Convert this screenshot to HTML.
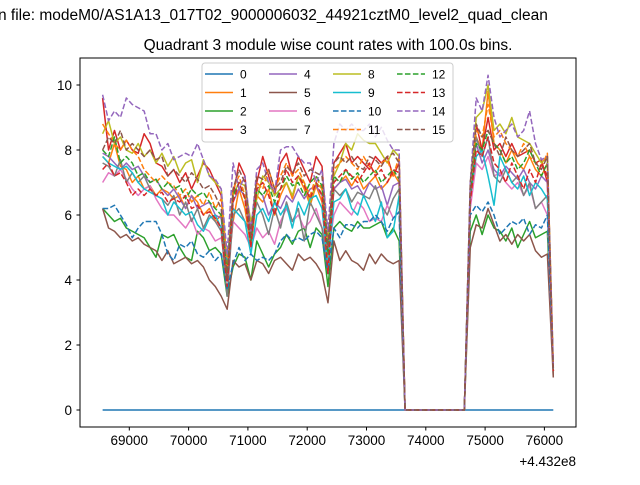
<!DOCTYPE html>
<html><head><meta charset="utf-8"><style>
body{margin:0;background:#fff;}
svg text{font-family:"Liberation Sans","DejaVu Sans",sans-serif;}
</style></head><body>
<svg id="chart" width="640" height="480" viewBox="0 0 640 480" xmlns="http://www.w3.org/2000/svg">
<rect width="640" height="480" fill="#fff"/>
<text x="-2" y="20" font-size="15.5">n file: modeM0/AS1A13_017T02_9000006032_44921cztM0_level2_quad_clean</text>
<text x="328" y="50" font-size="15.5" text-anchor="middle">Quadrant 3 module wise count rates with 100.0s bins.</text>
<g id="plot"></g>
<rect x="80" y="58" width="496" height="369" fill="none" stroke="#000" stroke-width="1"/>
<g id="axes"></g>
<text x="576" y="466" font-size="13.5" text-anchor="end">+4.432e8</text>
<g id="legend"></g>
</svg>
<script>
const xStart = 68550;
const binSize = 100;
const xTicks = [69000,70000,71000,72000,73000,74000,75000,76000];
const yTicks = [0,2,4,6,8,10];
const seriesNames = ["0","1","2","3","4","5","6","7","8","9","10","11","12","13","14","15"];
const s0 = [0,0,0,0,0,0,0,0,0,0,0,0,0,0,0,0,0,0,0,0,0,0,0,0,0,0,0,0,0,0,0,0,0,0,0,0,0,0,0,0,0,0,0,0,0,0,0,0,0,0,0,0,0,0,0,0,0,0,0,0,0,0,0,0,0,0,0,0,0,0,0,0,0,0,0,0,0];
const s1 = [7.8,7.6,8.2,7.5,7.4,7.0,7.2,6.8,6.9,6.6,6.8,6.7,6.5,6.6,6.2,6.6,6.4,6.0,6.2,5.8,6.0,4.0,5.8,6.8,6.2,5.0,6.6,6.4,6.8,6.0,6.6,7.0,6.5,7.2,6.8,6.3,6.9,6.4,4.6,6.8,7.0,7.2,6.9,7.2,6.8,7.0,7.2,6.8,7.0,7.3,7.0, 0,0,0,0,0,0,0,0,0,0,0, 6.4,8.4,8.0,9.8,8.2,8.0,7.6,8.0,7.6,7.4,7.8,7.4,7.2,7.6,1.2];
const s2 = [6.2,6.0,5.8,5.9,5.6,5.5,5.4,5.3,5.0,4.7,5.4,5.3,5.4,5.0,4.7,4.6,5.5,5.3,4.9,5.0,4.8,3.5,4.4,4.8,4.7,4.0,5.2,4.8,4.4,4.8,5.0,5.4,5.1,5.5,5.6,5.0,5.6,5.4,3.8,5.6,5.8,5.6,5.5,5.8,5.6,5.6,5.7,5.8,5.3,5.6,5.2, 0,0,0,0,0,0,0,0,0,0,0, 5.5,6.0,5.4,6.0,5.6,5.5,5.2,5.6,5.0,5.4,5.8,5.3,5.4,5.5,1.2];
const s3 = [9.6,8.0,8.6,8.0,8.3,8.0,7.9,8.5,8.2,7.6,7.5,7.2,7.4,7.0,7.3,6.8,7.2,7.6,7.4,7.0,6.6,4.2,6.6,7.6,7.2,5.2,7.0,7.8,7.2,6.6,7.6,7.9,7.2,7.8,7.4,7.0,7.8,7.5,5.0,7.6,7.9,8.2,7.6,7.8,7.6,7.4,7.8,7.6,7.8,7.2,7.6, 0,0,0,0,0,0,0,0,0,0,0, 6.5,8.8,8.0,9.0,8.0,8.2,7.8,8.2,7.8,7.9,8.0,7.6,7.7,7.0,1.2];
const s4 = [7.9,7.8,7.6,7.4,7.6,7.4,7.5,7.2,7.0,7.1,6.8,6.6,6.8,6.5,6.2,6.6,6.2,6.3,6.4,6.0,5.9,4.0,6.4,6.8,6.6,5.2,6.8,6.6,6.0,6.4,6.2,6.6,6.4,6.8,6.5,6.8,6.9,6.6,4.8,6.8,7.0,7.1,6.8,6.9,6.6,7.0,6.8,6.9,6.3,6.9,7.0, 0,0,0,0,0,0,0,0,0,0,0, 6.8,8.2,7.6,8.0,7.4,7.2,7.5,7.3,7.1,7.4,7.0,6.8,7.2,7.0,1.2];
const s5 = [6.2,5.6,5.5,5.3,5.4,5.2,5.3,5.1,5.0,4.9,4.6,4.9,4.5,4.6,4.7,4.5,4.6,4.4,4.0,3.8,3.5,3.1,4.6,4.4,4.5,4.0,4.6,4.5,4.2,4.6,4.7,4.5,4.3,4.8,4.6,4.7,4.5,4.2,3.3,5.2,4.6,4.9,4.6,4.5,4.3,4.8,4.5,4.8,4.6,4.5,4.6, 0,0,0,0,0,0,0,0,0,0,0, 5.0,5.7,5.6,6.2,5.7,5.2,5.4,5.1,5.4,5.2,5.4,4.9,4.7,4.8,1.0];
const s6 = [7.0,7.3,7.2,7.4,7.1,6.8,6.6,6.8,6.9,6.5,6.2,6.0,6.0,5.8,5.6,5.9,5.4,5.6,5.5,5.2,5.3,4.2,5.8,5.6,5.4,5.0,5.6,5.3,5.5,5.1,5.8,6.2,5.8,6.0,5.6,5.8,6.2,5.6,4.8,6.0,6.4,6.2,6.0,6.4,6.2,5.8,5.9,5.8,6.3,5.9,6.1, 0,0,0,0,0,0,0,0,0,0,0, 6.2,7.6,7.4,7.8,7.2,7.3,7.0,6.8,7.0,6.6,6.9,6.2,6.4,6.0,1.2];
const s7 = [7.6,7.5,7.2,7.7,7.0,7.3,7.0,7.2,6.8,6.6,6.5,6.3,6.6,6.0,6.4,5.8,6.2,5.6,6.0,5.8,5.5,3.5,6.0,6.2,5.8,5.4,6.4,6.0,5.4,6.2,5.6,6.4,5.8,6.2,5.2,6.4,6.0,5.6,4.2,6.8,6.6,6.8,6.4,6.7,6.6,6.5,6.9,6.3,6.0,6.5,6.8, 0,0,0,0,0,0,0,0,0,0,0, 6.6,8.4,7.8,8.4,7.2,7.0,7.4,7.0,7.2,6.6,7.0,6.2,6.4,6.6,1.2];
const s8 = [8.5,8.9,8.2,8.4,8.0,7.9,8.2,7.8,8.0,7.6,7.9,7.5,7.8,7.3,7.6,7.7,7.0,7.7,7.2,7.0,6.8,4.5,6.6,7.0,6.9,5.8,6.5,7.2,7.0,6.6,6.8,7.0,6.6,7.2,7.0,6.4,7.0,6.8,5.2,7.2,7.6,8.2,8.0,8.5,8.3,8.2,8.2,7.9,7.6,8.0,7.8, 0,0,0,0,0,0,0,0,0,0,0, 6.8,9.0,9.2,10.0,8.6,8.8,8.5,9.0,8.4,8.3,8.2,7.9,7.6,7.8,1.3];
const s9 = [7.8,7.6,7.5,7.4,7.5,7.3,7.0,6.8,6.7,6.6,6.5,6.0,6.4,6.2,6.0,6.1,5.7,5.5,5.9,6.0,5.6,4.6,6.2,6.0,5.8,4.8,6.0,6.2,5.8,6.4,6.0,6.3,5.6,6.4,6.0,6.5,6.6,6.2,4.4,6.4,6.5,6.8,6.2,6.0,6.6,6.2,5.8,6.4,5.3,5.5,6.6, 0,0,0,0,0,0,0,0,0,0,0, 6.6,7.8,8.0,7.2,6.3,7.8,7.4,7.0,6.8,7.2,6.6,7.0,6.8,6.5,1.3];
const s10 = [6.2,6.2,6.3,6.0,5.7,5.3,5.6,5.8,5.8,5.8,5.4,4.8,4.6,5.1,5.0,5.2,4.8,4.7,4.9,4.6,4.8,3.7,4.5,5.0,4.6,4.8,4.6,4.7,4.6,4.8,5.2,5.4,5.2,5.3,5.2,5.4,5.5,5.3,4.2,5.6,5.3,5.7,5.7,5.6,5.8,5.8,6.0,5.8,5.5,5.9,6.1, 0,0,0,0,0,0,0,0,0,0,0, 6.0,6.3,6.1,6.4,6.0,5.4,5.6,5.8,5.7,5.9,5.4,5.7,5.6,6.0,1.3];
const s11 = [8.8,8.5,8.2,8.0,8.3,8.0,7.8,7.4,7.2,7.0,7.2,7.0,6.9,6.6,6.8,6.4,6.6,6.3,6.7,6.2,6.5,4.4,6.8,7.2,6.6,5.5,7.0,6.8,7.4,6.8,7.2,7.6,7.2,7.4,7.0,6.6,7.2,6.8,5.0,7.4,7.6,7.8,7.6,7.4,7.8,7.5,7.3,7.6,7.7,7.2,7.8, 0,0,0,0,0,0,0,0,0,0,0, 6.6,8.6,8.4,9.4,8.4,8.6,8.2,8.0,7.8,8.2,7.8,7.6,7.5,7.9,1.3];
const s12 = [8.0,7.8,8.4,7.6,7.8,7.6,7.2,7.3,7.0,7.1,6.8,7.0,6.8,6.9,6.5,6.8,6.6,6.7,6.4,6.2,6.0,4.2,6.6,7.0,6.5,5.2,6.8,6.6,6.9,6.4,6.8,7.2,6.9,7.0,6.6,7.0,7.2,6.9,4.8,7.2,7.0,7.4,7.1,7.3,7.0,7.2,7.4,7.0,7.2,7.4,7.1, 0,0,0,0,0,0,0,0,0,0,0, 6.6,8.2,8.0,8.6,8.2,8.0,7.6,7.8,7.4,7.6,8.0,7.6,7.2,7.6,1.2];
const s13 = [7.4,7.6,7.2,7.3,7.0,6.6,6.8,6.6,6.8,6.6,6.7,6.4,6.5,6.4,6.6,6.2,6.3,6.0,6.1,5.9,5.6,3.8,6.4,7.0,6.5,5.0,6.8,7.0,6.6,6.0,6.8,7.4,7.0,7.2,6.9,6.5,7.0,6.6,4.2,7.0,7.2,7.4,7.2,7.0,7.3,7.6,7.2,7.4,7.0,7.4,7.3, 0,0,0,0,0,0,0,0,0,0,0, 6.4,8.0,7.8,8.4,7.6,7.4,7.0,7.6,7.2,6.8,7.4,7.0,7.6,7.2,1.2];
const s14 = [9.7,8.9,9.2,9.0,9.6,9.4,9.3,9.2,8.5,8.5,8.0,8.2,7.7,7.8,7.9,7.8,8.2,7.7,7.2,7.1,6.8,4.8,7.6,6.8,7.2,5.5,7.4,7.6,7.0,6.7,8.0,8.1,8.1,7.8,7.6,7.6,7.0,7.4,5.5,8.2,8.8,8.6,8.8,8.6,8.6,8.8,8.4,8.7,8.3,8.0,8.0, 0,0,0,0,0,0,0,0,0,0,0, 7.0,9.6,9.2,10.3,9.0,8.4,8.6,8.8,8.4,8.6,9.2,8.2,7.7,7.8,1.4];
const s15 = [8.0,8.4,8.2,8.6,8.0,8.2,8.0,7.8,8.0,7.7,7.8,7.2,7.4,7.2,7.0,7.3,7.1,6.8,6.9,6.6,6.2,4.0,6.8,7.4,7.0,5.4,7.2,7.1,7.4,6.8,7.0,7.5,7.3,7.6,7.2,7.4,7.3,7.2,5.0,7.6,7.8,7.6,7.8,7.5,7.4,7.8,7.7,7.5,7.8,7.9,7.6, 0,0,0,0,0,0,0,0,0,0,0, 7.0,8.8,8.4,8.6,8.2,7.8,8.4,8.0,7.8,8.0,8.2,7.6,7.4,7.8,1.0];
const allSeries = [s0,s1,s2,s3,s4,s5,s6,s7,s8,s9,s10,s11,s12,s13,s14,s15];

const colors = ["#1f77b4","#ff7f0e","#2ca02c","#d62728","#9467bd","#8c564b","#e377c2","#7f7f7f","#bcbd22","#17becf"];
const NS = "http://www.w3.org/2000/svg";
function xs(v){ return 129.3 + (v - 69000) * 0.0593; }
function ys(v){ return 410 - v * 32.5; }

const plot = document.getElementById('plot');
allSeries.forEach((arr, si) => {
  const p = document.createElementNS(NS, 'polyline');
  p.setAttribute('points', arr.map((v,i) => xs(xStart + i*binSize).toFixed(2)+','+ys(v).toFixed(2)).join(' '));
  p.setAttribute('fill','none');
  p.setAttribute('stroke', colors[si % 10]);
  p.setAttribute('stroke-width','1.5');
  p.setAttribute('stroke-linejoin','round');
  if (si >= 10) p.setAttribute('stroke-dasharray','5.55,2.4');
  
  
  plot.appendChild(p);
});

const axes = document.getElementById('axes');
xTicks.forEach(t => {
  const x = xs(t);
  const l = document.createElementNS(NS,'line');
  l.setAttribute('x1',x); l.setAttribute('x2',x); l.setAttribute('y1',427); l.setAttribute('y2',430.5);
  l.setAttribute('stroke','#000');
  
  
  axes.appendChild(l);
  const tx = document.createElementNS(NS,'text');
  tx.setAttribute('x',x); tx.setAttribute('y',445); tx.setAttribute('font-size','13.5'); tx.setAttribute('text-anchor','middle');
  tx.textContent = t;
  
  
  axes.appendChild(tx);
});
yTicks.forEach(t => {
  const y = ys(t);
  const l = document.createElementNS(NS,'line');
  l.setAttribute('x1',76.5); l.setAttribute('x2',80); l.setAttribute('y1',y); l.setAttribute('y2',y);
  l.setAttribute('stroke','#000');
  
  
  axes.appendChild(l);
  const tx = document.createElementNS(NS,'text');
  tx.setAttribute('x',72); tx.setAttribute('y',y+5); tx.setAttribute('font-size','13.5'); tx.setAttribute('text-anchor','end');
  tx.textContent = t;
  
  
  axes.appendChild(tx);
});

const legend = document.getElementById('legend');
const box = document.createElementNS(NS,'rect');
box.setAttribute('x',202); box.setAttribute('y',63); box.setAttribute('width',251); box.setAttribute('height',79);
box.setAttribute('rx',3); box.setAttribute('fill','#fff'); box.setAttribute('fill-opacity','0.8'); box.setAttribute('stroke','#ccc');


legend.appendChild(box);
const colX = [205, 269, 333, 397];
const rowY = [74, 92.5, 111, 129.5];
seriesNames.forEach((n, si) => {
  const c = Math.floor(si/4), r = si % 4;
  const x = colX[c], y = rowY[r];
  const l = document.createElementNS(NS,'line');
  l.setAttribute('x1',x); l.setAttribute('x2',x+28); l.setAttribute('y1',y); l.setAttribute('y2',y);
  l.setAttribute('stroke',colors[si%10]); l.setAttribute('stroke-width','1.5');
  if (si >= 10) l.setAttribute('stroke-dasharray','5.55,2.4');
  
  
  legend.appendChild(l);
  const tx = document.createElementNS(NS,'text');
  tx.setAttribute('x',x+35); tx.setAttribute('y',y+4.5); tx.setAttribute('font-size','12');
  tx.textContent = n;
  
  
  legend.appendChild(tx);
});
</script>
</body></html>
